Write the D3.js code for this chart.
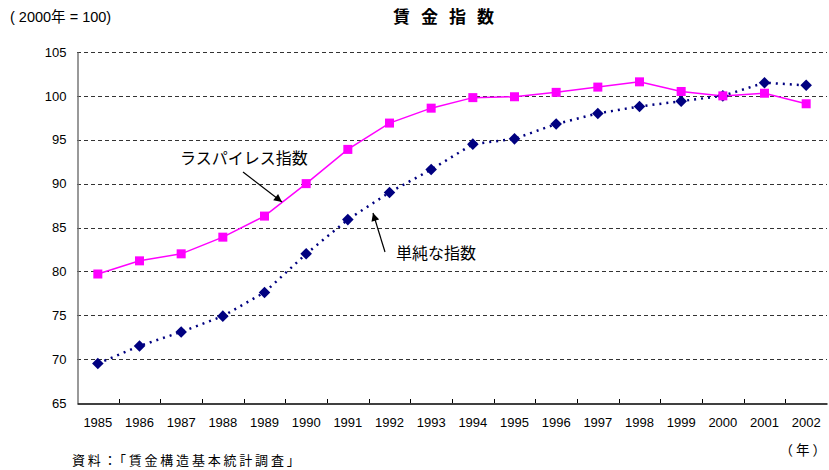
<!DOCTYPE html>
<html>
<head>
<meta charset="utf-8">
<script src="https://cdn.jsdelivr.net/npm/d3@7"></script>
<style>
  body { margin: 0; background: #fff; }
  text { font-family: Arial, "Liberation Sans", "Noto Sans CJK JP", sans-serif; fill: #000; }
</style>
</head>
<body>
<div id="chart"></div>
<script>
// data
var years = ["1985","1986","1987","1988","1989","1990","1991","1992","1993",
             "1994","1995","1996","1997","1998","1999","2000","2001","2002"];
var laspeyres = [79.7, 81.2, 82.0, 83.9, 86.3, 90.0, 93.9, 96.9, 98.6,
                 99.8, 99.9, 100.4, 101.0, 101.6, 100.5, 100.0, 100.3, 99.1];
var simple = [69.5, 71.5, 73.1, 74.9, 77.6, 82.0, 85.9, 89.0, 91.6,
              94.5, 95.1, 96.8, 98.0, 98.8, 99.4, 100.0, 101.5, 101.2];
var yTicks = [65, 70, 75, 80, 85, 90, 95, 100, 105];

// svg size
var width = 829, height = 470;
var plotLeft = 77, plotRight = 827, plotTop = 52, plotBottom = 403;

var svg = d3.select("#chart").append("svg")
            .attr("width", width)
            .attr("height", height);

var x = d3.scaleBand().domain(years).range([plotLeft, plotRight]);
var y = d3.scaleLinear().domain([65, 105]).range([plotBottom, plotTop]);
var cx = function(i){ return x(years[i]) + x.bandwidth() / 2; };

// gridlines
svg.append("g")
    .selectAll("line")
    .data(yTicks.slice(1))
    .enter()
        .append("line")
        .attr("x1", plotLeft)
        .attr("x2", plotRight)
        .attr("y1", function(d){ return Math.round(y(d)) + 0.5; })
        .attr("y2", function(d){ return Math.round(y(d)) + 0.5; })
        .attr("stroke", "#333")
        .attr("stroke-width", 1)
        .attr("stroke-dasharray", "4,3");

// y axis
var yAxis = svg.append("g")
    .attr("transform", "translate(" + (plotLeft + 0.5) + ",0)")
    .call(d3.axisLeft(y).tickValues(yTicks).tickSize(0).tickPadding(11));
yAxis.select(".domain").attr("stroke", "#777").attr("stroke-width", 1.5);
yAxis.selectAll("text").style("font-size", "13px");

// x axis
var xAxis = svg.append("g")
    .attr("transform", "translate(0," + (plotBottom + 0.5) + ")")
    .call(d3.axisBottom(x).tickSize(0).tickPadding(14));
xAxis.select(".domain").attr("stroke", "#000").attr("stroke-width", 1.5);
xAxis.selectAll("text").style("font-size", "13px");
svg.append("g")
    .selectAll("line")
    .data(years.slice(1))
    .enter()
        .append("line")
        .attr("x1", function(d){ return Math.round(x(d)) + 0.5; })
        .attr("x2", function(d){ return Math.round(x(d)) + 0.5; })
        .attr("y1", plotBottom)
        .attr("y2", plotBottom - 4)
        .attr("stroke", "#000");

// lines
var line = d3.line()
    .x(function(d, i){ return cx(i); })
    .y(function(d){ return y(d); });

svg.append("path")
    .datum(simple)
    .attr("d", line)
    .attr("fill", "none")
    .attr("stroke", "#000080")
    .attr("stroke-width", 2.5)
    .attr("stroke-dasharray", "2,5");

svg.append("path")
    .datum(laspeyres)
    .attr("d", line)
    .attr("fill", "none")
    .attr("stroke", "#FF00FF")
    .attr("stroke-width", 1.5);

// markers
svg.append("g")
    .selectAll("path")
    .data(simple)
    .enter()
        .append("path")
        .attr("d", d3.symbol().type(d3.symbolDiamond2).size(85))
        .attr("transform", function(d, i){ return "translate(" + cx(i) + "," + y(d) + ")"; })
        .attr("fill", "#000080");

svg.append("g")
    .selectAll("rect")
    .data(laspeyres)
    .enter()
        .append("rect")
        .attr("x", function(d, i){ return cx(i) - 4.5; })
        .attr("y", function(d){ return y(d) - 4.5; })
        .attr("width", 9)
        .attr("height", 9)
        .attr("fill", "#FF00FF");

// arrows
var defs = svg.append("defs");
defs.append("marker")
    .attr("id", "arrow")
    .attr("viewBox", "0 0 10 10")
    .attr("refX", 10).attr("refY", 5)
    .attr("markerWidth", 10).attr("markerHeight", 8)
    .attr("markerUnits", "userSpaceOnUse")
    .attr("orient", "auto")
    .append("path")
        .attr("d", "M0,0 L10,5 L0,10 Z")
        .attr("fill", "#000");

svg.append("line")
    .attr("x1", 243).attr("y1", 172)
    .attr("x2", 282).attr("y2", 202)
    .attr("stroke", "#000").attr("stroke-width", 1.2)
    .attr("marker-end", "url(#arrow)");

svg.append("line")
    .attr("x1", 385).attr("y1", 252)
    .attr("x2", 373).attr("y2", 213)
    .attr("stroke", "#000").attr("stroke-width", 1.2)
    .attr("marker-end", "url(#arrow)");

// labels
svg.append("text")
    .attr("x", 180).attr("y", 164)
    .style("font-size", "16px")
    .text("ラスパイレス指数");

svg.append("text")
    .attr("x", 396).attr("y", 259)
    .style("font-size", "16px")
    .text("単純な指数");

svg.append("text")
    .attr("x", 449).attr("y", 23)
    .attr("text-anchor", "middle")
    .style("font-size", "17px")
    .style("font-weight", "bold")
    .style("letter-spacing", "11px")
    .text("賃金指数");

svg.append("text")
    .attr("x", 10).attr("y", 22)
    .style("font-size", "14.5px")
    .text("( 2000年 = 100)");

svg.append("text")
    .attr("x", 829).attr("y", 455)
    .attr("text-anchor", "end")
    .style("font-size", "13.5px")
    .style("letter-spacing", "3px")
    .text("（年）");

svg.append("text")
    .attr("x", 72).attr("y", 465)
    .style("font-size", "13px")
    .style("letter-spacing", "2.8px")
    .text("資料：「賃金構造基本統計調査」");
</script>
</body>
</html>
